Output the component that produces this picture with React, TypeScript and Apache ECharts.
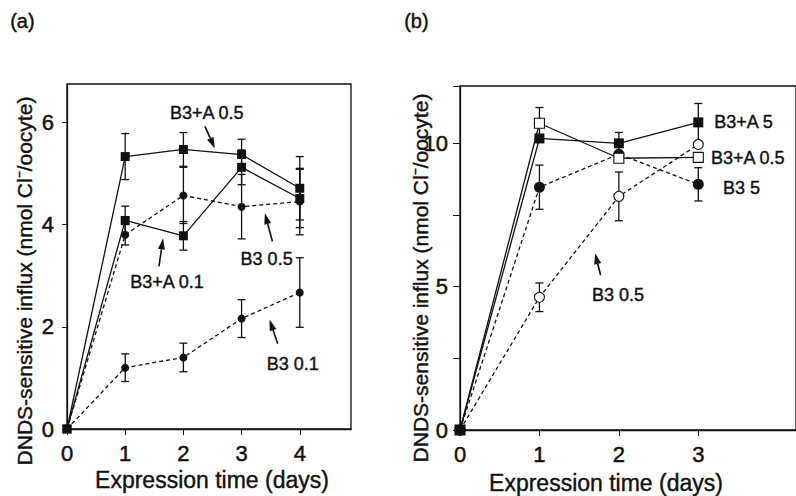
import React, { useEffect, useRef } from 'react';
import * as echarts from 'echarts';

// ---------- Panel (a) data ----------
const daysA = [0, 1, 2, 3, 4];
const a_B3A05 = [0, 5.33, 5.47, 5.37, 4.71];
const a_B3A05_err = [0, 0.45, 0.33, 0.3, 0.62];
const a_B3A01 = [0, 4.08, 3.78, 5.12, 4.51];
const a_B3A01_err = [0, 0.28, 0.28, 0.34, 0.57];
const a_B305 = [0, 3.8, 4.57, 4.35, 4.45];
const a_B305_err = [0, 0.2, 0.55, 0.63, 0.65];
const a_B301 = [0, 1.2, 1.4, 2.16, 2.67];
const a_B301_err = [0, 0.27, 0.28, 0.37, 0.68];

// ---------- Panel (b) data ----------
const daysB = [0, 1, 2, 3];
const b_B3A5 = [0, 10.17, 10.0, 10.73];
const b_B3A5_err = [0, 0.0, 0.38, 0.66];
const b_B3A05 = [0, 10.7, 9.48, 9.51];
const b_B3A05_err = [0, 0.55, 0.0, 0.0];
const b_B35 = [0, 8.47, 9.62, 8.57];
const b_B35_err = [0, 0.77, 0.0, 0.58];
const b_B305 = [0, 4.63, 8.15, 9.96];
const b_B305_err = [0, 0.5, 0.85, 0.0];

// ---------- Axis ticks ----------
const ticksAx = [0, 1, 2, 3, 4];
const ticksAy = [0, 2, 4, 6];
const ticksBx = [0, 1, 2, 3];
const ticksBy = [0, 5, 10];

// ---------- Annotations (data coordinates) ----------
const labelsA = [
  { text: 'B3+A 0.5', x: 2.4, y: 6.18, align: 'center' },
  { text: 'B3 0.5', x: 3.43, y: 3.33, align: 'center' },
  { text: 'B3+A 0.1', x: 1.72, y: 2.88, align: 'center' },
  { text: 'B3 0.1', x: 3.88, y: 1.27, align: 'center' },
];
const arrowsA = [
  [2.37, 5.92, 2.54, 5.49],
  [3.53, 3.67, 3.4, 4.22],
  [1.58, 3.18, 1.65, 3.73],
  [3.62, 1.67, 3.48, 2.14],
];
const labelsB = [
  { text: 'B3+A 5', x: 3.2, y: 10.73, align: 'left' },
  { text: 'B3+A 0.5', x: 3.16, y: 9.48, align: 'left' },
  { text: 'B3 5', x: 3.31, y: 8.43, align: 'left' },
  { text: 'B3 0.5', x: 1.99, y: 4.7, align: 'center' },
];
const arrowsB = [[1.77, 5.4, 1.7, 6.17]];

const FONT = '"Liberation Sans", Arial, Helvetica, sans-serif';
const INK = '#111';
const THICK = { textBorderColor: INK, textBorderWidth: 0.5 };

function zip(xs: number[], ys: number[]) {
  return xs.map((x, i) => [x, ys[i]]);
}
function zip3(xs: number[], ys: number[], es: number[]) {
  return xs.map((x, i) => [x, ys[i], es[i]]);
}

function lineSeries(idx: number, xs: number[], ys: number[], symbol: string, size: number, filled: boolean, dashed: boolean) {
  return {
    type: 'line',
    xAxisIndex: idx,
    yAxisIndex: idx,
    data: zip(xs, ys),
    symbol,
    symbolSize: size,
    showAllSymbol: true,
    z: 5,
    lineStyle: { color: INK, width: 1.3, type: dashed ? [4, 3] : 'solid' },
    itemStyle: { color: filled ? INK : '#fff', borderColor: INK, borderWidth: filled ? 0 : 1.1 },
    emphasis: { disabled: true },
  };
}

function errorSeries(idx: number, xs: number[], ys: number[], es: number[]) {
  return {
    type: 'custom',
    xAxisIndex: idx,
    yAxisIndex: idx,
    z: 3,
    data: zip3(xs, ys, es),
    renderItem: (params: any, api: any) => {
      const x = api.value(0);
      const y = api.value(1);
      const e = api.value(2);
      if (!e) return null;
      const hi = api.coord([x, y + e]);
      const lo = api.coord([x, y - e]);
      const w = 4;
      const st = { stroke: INK, lineWidth: 1.3 };
      return {
        type: 'group',
        children: [
          { type: 'line', shape: { x1: hi[0], y1: hi[1], x2: lo[0], y2: lo[1] }, style: st },
          { type: 'line', shape: { x1: hi[0] - w, y1: hi[1], x2: hi[0] + w, y2: hi[1] }, style: st },
          { type: 'line', shape: { x1: lo[0] - w, y1: lo[1], x2: lo[0] + w, y2: lo[1] }, style: st },
        ],
      };
    },
  };
}

function labelSeries(idx: number, labels: any[]) {
  return {
    type: 'custom',
    xAxisIndex: idx,
    yAxisIndex: idx,
    z: 6,
    data: labels.map((l) => [l.x, l.y]),
    renderItem: (params: any, api: any) => {
      const l = labels[params.dataIndex];
      const p = api.coord([l.x, l.y]);
      return {
        type: 'text',
        x: p[0],
        y: p[1],
        style: {
          text: l.text,
          fontSize: 18,
          fontFamily: FONT,
          fill: INK,
          align: l.align,
          verticalAlign: 'middle',
          stroke: INK,
          lineWidth: 0.4,
        },
      };
    },
  };
}

function arrowSeries(idx: number, arrows: number[][]) {
  return {
    type: 'custom',
    xAxisIndex: idx,
    yAxisIndex: idx,
    z: 6,
    data: arrows,
    renderItem: (params: any, api: any) => {
      const a = arrows[params.dataIndex];
      const p1 = api.coord([a[0], a[1]]);
      const p2 = api.coord([a[2], a[3]]);
      const dx = p2[0] - p1[0];
      const dy = p2[1] - p1[1];
      const len = Math.sqrt(dx * dx + dy * dy);
      const ux = dx / len;
      const uy = dy / len;
      const hl = 11;
      const hw = 3.5;
      const bx = p2[0] - ux * hl;
      const by = p2[1] - uy * hl;
      return {
        type: 'group',
        children: [
          { type: 'line', shape: { x1: p1[0], y1: p1[1], x2: bx, y2: by }, style: { stroke: INK, lineWidth: 1.6 } },
          {
            type: 'polygon',
            shape: { points: [[p2[0], p2[1]], [bx - uy * hw, by + ux * hw], [bx + uy * hw, by - ux * hw]] },
            style: { fill: INK },
          },
        ],
      };
    },
  };
}

const axisLabelStyle = { color: INK, fontSize: 22, fontFamily: FONT, ...THICK };
const yName = 'DNDS-sensitive influx (nmol Cl\u207B/oocyte)';
const gText = (text: string, size: number) => ({
  text, fontSize: size, fontFamily: FONT, fill: INK, stroke: INK, lineWidth: 0.4,
});

export default function App() {
  const ref = useRef<HTMLDivElement>(null);
  useEffect(() => {
    if (!ref.current) return;
    const chart = echarts.init(ref.current, undefined, { renderer: 'svg' });
    const option: any = {
      animation: false,
      backgroundColor: '#fff',
      grid: [
        { left: 67, top: 84, width: 284, height: 345, show: true, borderColor: INK, borderWidth: 1.3, containLabel: false },
        { left: 460, top: 86, right: -6, height: 344, show: true, borderColor: INK, borderWidth: 1.3, containLabel: false },
      ],
      xAxis: [
        {
          type: 'value', gridIndex: 0, min: 0, max: 4.88, interval: 1,
          axisLine: { lineStyle: { color: INK, width: 1.3 } },
          axisTick: { show: true, length: 6, lineStyle: { color: INK }, customValues: ticksAx },
          axisLabel: { ...axisLabelStyle, margin: 13, customValues: ticksAx },
          splitLine: { show: false },
        },
        {
          type: 'value', gridIndex: 1, min: 0, max: 4.23, interval: 1,
          axisLine: { lineStyle: { color: INK, width: 1.3 } },
          axisTick: { show: true, length: 6, lineStyle: { color: INK }, customValues: ticksBx },
          axisLabel: { ...axisLabelStyle, margin: 13, customValues: ticksBx, formatter: (v: number) => (v > 3 ? '' : String(v)) },
          splitLine: { show: false },
        },
      ],
      yAxis: [
        {
          type: 'value', gridIndex: 0, min: 0, max: 6.75, interval: 2,
          axisLine: { show: true, lineStyle: { color: INK, width: 1.3 } },
          axisTick: { show: true, length: 5, lineStyle: { color: INK }, customValues: ticksAy },
          axisLabel: { ...axisLabelStyle, margin: 13, customValues: ticksAy },
          splitLine: { show: false },
        },
        {
          type: 'value', gridIndex: 1, min: 0, max: 12, interval: 5,
          axisLine: { show: true, lineStyle: { color: INK, width: 1.3 } },
          axisTick: { show: true, length: 7, lineStyle: { color: INK } },
          minorTick: { show: true, splitNumber: 2, length: 7, lineStyle: { color: INK } },
          axisLabel: { ...axisLabelStyle, margin: 12, customValues: ticksBy },
          splitLine: { show: false },
        },
      ],
      graphic: [
        { type: 'text', left: 10, top: 11, style: gText('(a)', 20) },
        { type: 'text', left: 404, top: 11, style: gText('(b)', 20) },
        {
          type: 'text', x: 24, y: 281, rotation: Math.PI / 2,
          style: { ...gText(yName, 21), align: 'center', verticalAlign: 'middle' },
        },
        {
          type: 'text', x: 420, y: 278, rotation: Math.PI / 2,
          style: { ...gText(yName, 21), align: 'center', verticalAlign: 'middle' },
        },
        {
          type: 'text', x: 212, y: 480,
          style: { ...gText('Expression time (days)', 23), align: 'center', verticalAlign: 'middle' },
        },
        {
          type: 'text', x: 606, y: 483,
          style: { ...gText('Expression time (days)', 23), align: 'center', verticalAlign: 'middle' },
        },
      ],
      series: [
        errorSeries(0, daysA, a_B3A05, a_B3A05_err),
        errorSeries(0, daysA, a_B3A01, a_B3A01_err),
        errorSeries(0, daysA, a_B305, a_B305_err),
        errorSeries(0, daysA, a_B301, a_B301_err),
        lineSeries(0, daysA, a_B3A05, 'rect', 9, true, false),
        lineSeries(0, daysA, a_B3A01, 'rect', 9, true, false),
        lineSeries(0, daysA, a_B305, 'circle', 8, true, true),
        lineSeries(0, daysA, a_B301, 'circle', 8, true, true),
        labelSeries(0, labelsA),
        arrowSeries(0, arrowsA),
        errorSeries(1, daysB, b_B3A5, b_B3A5_err),
        errorSeries(1, daysB, b_B3A05, b_B3A05_err),
        errorSeries(1, daysB, b_B35, b_B35_err),
        errorSeries(1, daysB, b_B305, b_B305_err),
        lineSeries(1, daysB, b_B305, 'circle', 10, false, true),
        lineSeries(1, daysB, b_B35, 'circle', 11, true, true),
        lineSeries(1, daysB, b_B3A05, 'rect', 10, false, false),
        lineSeries(1, daysB, b_B3A5, 'rect', 10, true, false),
        labelSeries(1, labelsB),
        arrowSeries(1, arrowsB),
      ],
    };
    chart.setOption(option);
    return () => chart.dispose();
  }, []);
  return (
    <div
      ref={ref}
      style={{ position: 'absolute', left: 0, top: 0, width: 796, height: 496, overflow: 'hidden', background: '#fff' }}
    />
  );
}
